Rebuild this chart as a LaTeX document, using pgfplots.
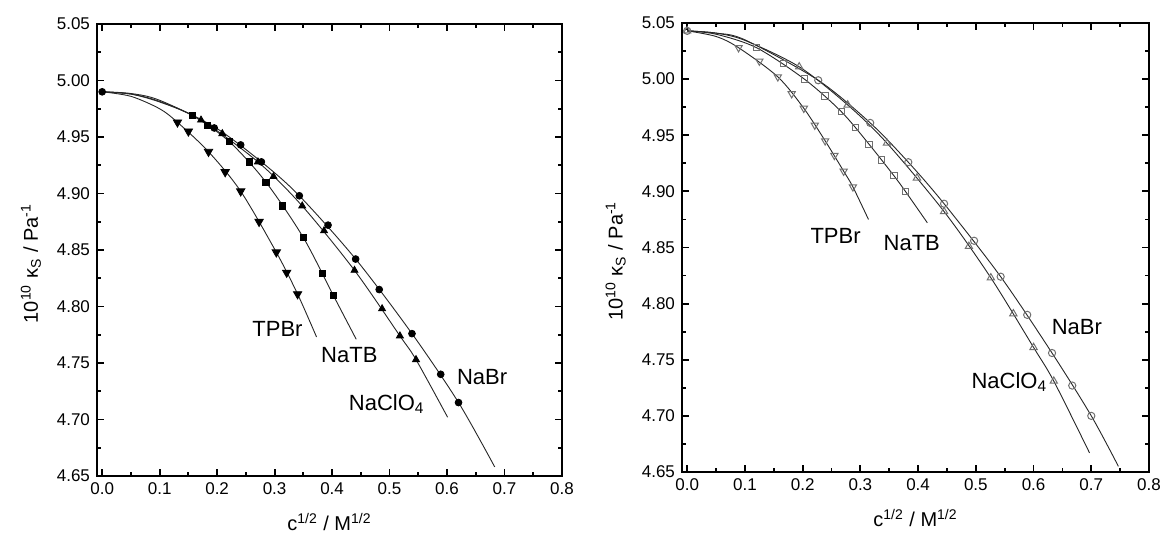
\documentclass[border=0pt]{standalone}
\usepackage{fontspec}
\setmainfont{Liberation Sans}
\usepackage{pgfplots}
\pgfplotsset{compat=1.18}

\definecolor{opengray}{HTML}{707070}

\pgfplotsset{
  kap/.style={
    scale only axis,
    xmin=-0.009, xmax=0.8, ymin=4.65, ymax=5.05,
    xtick={0,0.1,0.2,0.3,0.4,0.5,0.6,0.7,0.8},
    ytick={4.65,4.70,4.75,4.80,4.85,4.90,4.95,5.00,5.05},
    minor x tick num=1, minor y tick num=1,
    xtick pos=both, ytick pos=both,
    tick align=inside,
    major tick length=3.6pt, minor tick length=2.2pt,
    axis line style={line width=1pt},
    every tick/.style={line width=0.9pt, black},
    /pgf/number format/assume math mode=true,
    xticklabel style={font=\fontsize{8.5}{10}\selectfont,
      /pgf/number format/.cd, fixed, fixed zerofill, precision=1},
    yticklabel style={font=\fontsize{8.5}{10}\selectfont,
      /pgf/number format/.cd, fixed, fixed zerofill, precision=2},
    xlabel={c\textsuperscript{1/2} / M\textsuperscript{1/2}},
    ylabel={10\textsuperscript{10} κ\textsubscript{S} / Pa\textsuperscript{-1}},
    label style={font=\fontsize{10}{12}\selectfont},
    x label style={at={(axis description cs:0.5,-0.102)}, anchor=center},
    y label style={at={(axis description cs:-0.142,0.47)}, anchor=center},
    clip=false,
  },
  fitline/.style={no marks, smooth, line width=0.45pt, black!85},
}
\tikzset{lbl/.style={font=\fontsize{11}{13}\selectfont}}

\begin{document}
\begin{tikzpicture}
% left: filled symbols
\begin{axis}[kap, width=232.5pt, height=226pt, at={(0pt,0pt)}, anchor=south west]
% TPBr
\addplot[fitline] coordinates {(0,4.990) (0.05,4.986) (0.1,4.975) (0.131,4.963) (0.185,4.937) (0.241,4.902) (0.303,4.848) (0.340,4.811) (0.373,4.773)};
\addplot[only marks, mark=triangle*, mark size=2.4pt, mark options={rotate=180}] coordinates {
  (0.131,4.963) (0.150,4.955) (0.185,4.937) (0.214,4.919) (0.241,4.902) (0.273,4.875) (0.303,4.848) (0.321,4.830) (0.340,4.811)};
% NaTB
\addplot[fitline] coordinates {(0,4.990) (0.05,4.988) (0.1,4.981) (0.157,4.969) (0.221,4.946) (0.285,4.910) (0.350,4.861) (0.402,4.810) (0.442,4.771)};
\addplot[only marks, mark=square*, mark size=1.55pt] coordinates {
  (0.157,4.969) (0.183,4.960) (0.221,4.946) (0.256,4.928) (0.285,4.910) (0.314,4.889) (0.350,4.861) (0.383,4.829) (0.402,4.810)};
% NaClO4
\addplot[fitline] coordinates {(0,4.990) (0.05,4.988) (0.1,4.9815) (0.172,4.965) (0.271,4.928) (0.348,4.889) (0.439,4.832) (0.518,4.774) (0.546,4.753) (0.601,4.702)};
\addplot[only marks, mark=triangle*, mark size=2.0pt] coordinates {
  (0.172,4.965) (0.209,4.953) (0.271,4.928) (0.298,4.915) (0.348,4.889) (0.386,4.867) (0.439,4.832) (0.487,4.798) (0.518,4.774) (0.546,4.753)};
% NaBr
\addplot[fitline] coordinates {(0,4.990) (0.05,4.9885) (0.1,4.9825) (0.195,4.959) (0.277,4.928) (0.343,4.898) (0.441,4.842) (0.539,4.776) (0.620,4.715) (0.683,4.658)};
\addplot[only marks, mark=*, mark size=1.7pt] coordinates {
  (0,4.990) (0.195,4.958) (0.241,4.943) (0.277,4.928) (0.343,4.898) (0.393,4.872) (0.441,4.842) (0.482,4.815) (0.539,4.776) (0.589,4.740) (0.620,4.715)};
\node[lbl] at (axis cs:0.305,4.780) {TPBr};
\node[lbl] at (axis cs:0.430,4.757) {NaTB};
\node[lbl] at (axis cs:0.495,4.714) {NaClO\textsubscript{4}};
\node[lbl] at (axis cs:0.661,4.738) {NaBr};
\end{axis}

% right: open symbols
\begin{axis}[kap, width=233.5pt, height=224.5pt, at={(292.5pt,2pt)}, anchor=south west]
% TPBr
\addplot[fitline] coordinates {(0,5.043) (0.05,5.038) (0.089,5.028) (0.157,5.002) (0.202,4.974) (0.239,4.945) (0.271,4.918) (0.287,4.904) (0.314,4.875)};
\addplot[only marks, mark=triangle, mark size=2.1pt, mark options={rotate=180, opengray, line width=0.5pt}] coordinates {
  (0.089,5.028) (0.125,5.016) (0.157,5.002) (0.181,4.987) (0.202,4.974) (0.221,4.959) (0.239,4.945) (0.255,4.932) (0.271,4.918) (0.287,4.904)};
% NaTB
\addplot[fitline] coordinates {(0,5.043) (0.05,5.040) (0.12,5.028) (0.203,5.000) (0.267,4.971) (0.315,4.942) (0.358,4.914) (0.378,4.900) (0.416,4.872)};
\addplot[only marks, mark=square, mark size=1.6pt, mark options={opengray, line width=0.5pt}] coordinates {
  (0.120,5.028) (0.167,5.014) (0.203,5.000) (0.239,4.985) (0.267,4.971) (0.292,4.957) (0.315,4.942) (0.337,4.928) (0.358,4.914) (0.378,4.900)};
% NaClO4
\addplot[fitline] coordinates {(0,5.043) (0.05,5.041) (0.1,5.0345) (0.194,5.011) (0.278,4.977) (0.346,4.943) (0.445,4.882) (0.526,4.823) (0.600,4.761) (0.635,4.731) (0.697,4.667)};
\addplot[only marks, mark=triangle, mark size=2.1pt, mark options={opengray, line width=0.5pt}] coordinates {
  (0,5.043) (0.194,5.011) (0.278,4.977) (0.346,4.943) (0.398,4.912) (0.445,4.882) (0.488,4.851) (0.526,4.823) (0.565,4.791) (0.600,4.761) (0.635,4.731)};
% NaBr
\addplot[fitline] coordinates {(0,5.043) (0.05,5.041) (0.1,5.035) (0.227,4.999) (0.317,4.961) (0.383,4.926) (0.445,4.889) (0.543,4.824) (0.632,4.756) (0.700,4.700) (0.747,4.655)};
\addplot[only marks, mark=o, mark size=1.8pt, mark options={opengray, line width=0.5pt}] coordinates {
  (0,5.043) (0.227,4.999) (0.317,4.961) (0.383,4.926) (0.445,4.889) (0.497,4.856) (0.543,4.824) (0.589,4.790) (0.632,4.756) (0.667,4.727) (0.700,4.700)};
\node[lbl] at (axis cs:0.257,4.860) {TPBr};
\node[lbl] at (axis cs:0.389,4.854) {NaTB};
\node[lbl] at (axis cs:0.675,4.779) {NaBr};
\node[lbl] at (axis cs:0.558,4.730) {NaClO\textsubscript{4}};
\end{axis}

\pgfresetboundingbox
\path (-48.5pt,-32.5pt) rectangle (532.5pt,238pt);
\end{tikzpicture}
\end{document}
